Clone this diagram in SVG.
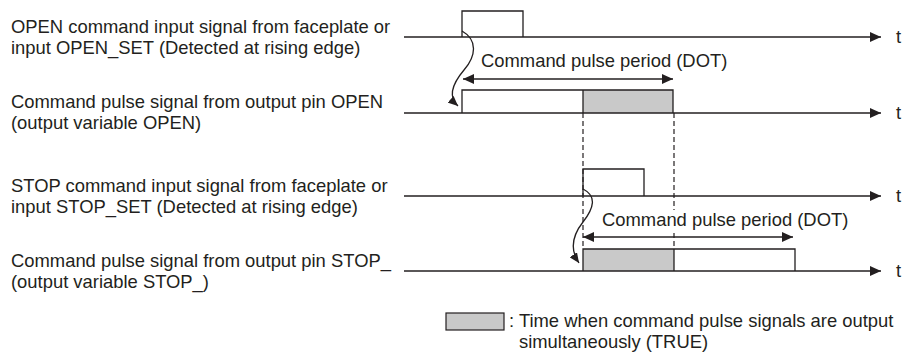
<svg xmlns="http://www.w3.org/2000/svg" width="904" height="356" viewBox="0 0 904 356">
<style>
text{font-family:"Liberation Sans",Arial,sans-serif;font-size:18.4px;fill:#231f20}
.ln{stroke:#231f20;stroke-width:1.3;fill:none}
.dash{stroke:#231f20;stroke-width:1.2;stroke-dasharray:5,3;fill:none}
.gray{fill:#c9c9c9;stroke:none}
</style>
<defs>
<marker id="ah" viewBox="0 0 11 10" refX="11" refY="5" markerWidth="11" markerHeight="10" markerUnits="userSpaceOnUse" orient="auto-start-reverse"><path d="M0,0 L11,5 L0,10 z" fill="#231f20"/></marker>
<marker id="ahs" viewBox="0 0 10 9" refX="10" refY="4.5" markerWidth="10" markerHeight="9" markerUnits="userSpaceOnUse" orient="auto"><path d="M0,0 L10,4.5 L0,9 z" fill="#231f20"/></marker>
</defs>

<g id="labels">
<text x="11" y="33">OPEN command input signal from faceplate or</text>
<text x="11" y="54">input OPEN_SET (Detected at rising edge)</text>
<text x="11" y="108">Command pulse signal from output pin OPEN</text>
<text x="11" y="129">(output variable OPEN)</text>
<text x="11" y="192">STOP command input signal from faceplate or</text>
<text x="11" y="213">input STOP_SET (Detected at rising edge)</text>
<text x="11" y="267">Command pulse signal from output pin STOP_</text>
<text x="11" y="288">(output variable STOP_)</text>
</g>

<g id="open-input">
<line class="ln" x1="404" y1="37" x2="881" y2="37" marker-end="url(#ah)"/>
<polyline class="ln" points="462,37 462,11 523,11 523,37"/>
<text x="896" y="43">t</text>
</g>

<g id="open-output">
<rect class="gray" x="583" y="90" width="90" height="23"/>
<line class="ln" x1="404" y1="113" x2="881" y2="113" marker-end="url(#ah)"/>
<polyline class="ln" points="462,113 462,90 673,90 673,113"/>
<line class="ln" x1="583" y1="90" x2="583" y2="113"/>
<text x="896" y="119">t</text>
</g>

<g id="stop-input">
<line class="ln" x1="404" y1="196" x2="881" y2="196" marker-end="url(#ah)"/>
<polyline class="ln" points="583,196 583,169 644,169 644,196"/>
<text x="896" y="202">t</text>
</g>

<g id="stop-output">
<rect class="gray" x="583" y="249" width="91" height="22"/>
<line class="ln" x1="404" y1="271" x2="881" y2="271" marker-end="url(#ah)"/>
<polyline class="ln" points="583,271 583,249 795,249 795,271"/>
<line class="ln" x1="674" y1="249" x2="674" y2="271"/>
<text x="896" y="277">t</text>
</g>

<g id="connectors">
<line class="dash" x1="583" y1="113" x2="583" y2="249"/>
<line class="dash" x1="674" y1="113" x2="674" y2="249"/>
<path class="ln" d="M462,31 C478,40 476,56 464,70 C453,83 447,96 458,106" marker-end="url(#ahs)"/>
<path class="ln" d="M583,189 C597,196 594,208 583,222 C572,236 570,250 579,263" marker-end="url(#ahs)"/>
<line class="ln" x1="463" y1="79" x2="673" y2="79" marker-start="url(#ah)" marker-end="url(#ah)"/>
<line class="ln" x1="583" y1="237" x2="793" y2="237" marker-start="url(#ah)" marker-end="url(#ah)"/>
</g>

<g id="dot-label-1">
<text x="481" y="67">Command pulse period (DOT)</text>
</g>
<g id="dot-label-2">
<rect x="599" y="210" width="254" height="22" fill="#fff"/>
<text x="602" y="226">Command pulse period (DOT)</text>
</g>

<g id="legend">
<rect x="446" y="313" width="58" height="17" fill="#c9c9c9" stroke="#231f20" stroke-width="1.2"/>
<text x="509" y="327">: Time when command pulse signals are output</text>
<text x="519" y="348">simultaneously (TRUE)</text>
</g>
</svg>
